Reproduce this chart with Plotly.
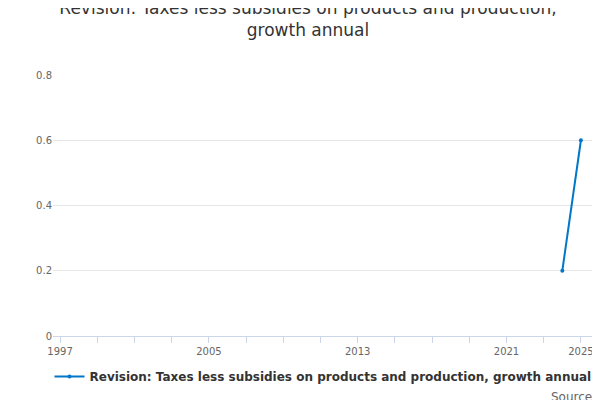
import plotly.graph_objects as go

years = [2024, 2025]
values = [0.2, 0.6]
series_name = "<b>Revision: Taxes less subsidies on products and production, growth annual</b>"
tick_years = [1997, 2005, 2013, 2021, 2025]
minor_years = list(range(1997, 2026, 2))

fig = go.Figure()
fig.add_trace(go.Scatter(
    x=years, y=values, mode="lines+markers", name=series_name,
    line=dict(color="#0077c8", width=2),
    marker=dict(size=4, color="#0077c8"),
))

fig.update_layout(
    width=600, height=400,
    margin=dict(l=45, r=15, t=67, b=72, autoexpand=False),
    paper_bgcolor="white", plot_bgcolor="white",
    font=dict(family="DejaVu Sans", color="#333333"),
    title=dict(text="Revision: Taxes less subsidies on products and production,<br>growth annual",
               x=0.5, xanchor="center", y=0.985, yanchor="top",
               font=dict(size=17, color="#333333")),
    showlegend=True,
    legend=dict(orientation="h", x=0.5, xanchor="center", y=-0.1, yanchor="top",
                font=dict(size=12, color="#333333", family="DejaVu Sans"),
                itemwidth=30),
    xaxis=dict(range=[1996.62, 2025.65], tickvals=tick_years,
               ticktext=[str(y) for y in tick_years], automargin=False,
               showgrid=False, showline=True, linecolor="#ccd6eb",
               ticks="outside", ticklen=6, tickcolor="#ccd6eb",
               minor=dict(tickvals=minor_years, ticks="outside", ticklen=6, tickcolor="#ccd6eb"),
               tickfont=dict(size=10, color="#666666"), zeroline=False),
    yaxis=dict(range=[0, 0.8], dtick=0.2, showgrid=True, gridcolor="#e6e6e6", automargin=False,
               zeroline=False, tickfont=dict(size=10, color="#666666")),
    annotations=[dict(text="Source:", xref="paper", yref="paper", x=1.01, y=-0.2,
                      xanchor="right", yanchor="top", showarrow=False,
                      font=dict(size=12, color="#666666"))],
)

fig.write_html("out.html")
